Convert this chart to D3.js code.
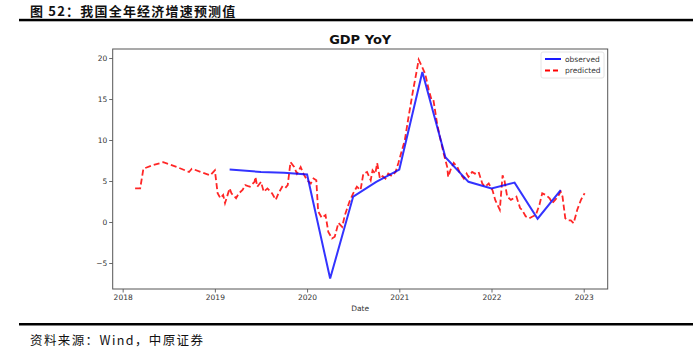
<!DOCTYPE html>
<html>
<head>
<meta charset="utf-8">
<script src="https://cdn.jsdelivr.net/npm/d3@7"></script>
<style>
  body { margin: 0; background: #fff; }
  svg { display: block; }
</style>
</head>
<body>
<div id="chart"></div>
<script>
// observed quarterly GDP YoY (decimal year)
const obsYears = [2019.16, 2019.5, 2019.75, 2020.0, 2020.25, 2020.5, 2020.75, 2021.0, 2021.25, 2021.5, 2021.75, 2022.0, 2022.25, 2022.5, 2022.75];
const obsValues = [6.4, 6.1, 6.0, 5.8, -6.9, 3.1, 4.9, 6.4, 18.3, 7.9, 4.9, 4.1, 4.8, 0.4, 3.9];

// predicted series
const predYears = [
  2018.135, 2018.19, 2018.225, 2018.32, 2018.44, 2018.59, 2018.72, 2018.75, 2018.95, 2019.0,
  2019.03, 2019.06, 2019.09, 2019.11, 2019.16, 2019.18, 2019.23, 2019.26, 2019.30, 2019.33,
  2019.38, 2019.43, 2019.44, 2019.46, 2019.50, 2019.53, 2019.57, 2019.62, 2019.66, 2019.69,
  2019.73, 2019.76, 2019.79, 2019.82, 2019.86, 2019.89, 2019.93, 2019.96, 2020.0, 2020.04,
  2020.07, 2020.10, 2020.12, 2020.16, 2020.2, 2020.23, 2020.27, 2020.30, 2020.34, 2020.38,
  2020.41, 2020.46, 2020.5, 2020.54, 2020.58, 2020.61, 2020.65, 2020.69, 2020.71, 2020.74,
  2020.76, 2020.79, 2020.82, 2020.85, 2020.88, 2020.92, 2020.96, 2020.99, 2021.03, 2021.06,
  2021.1, 2021.15, 2021.19, 2021.21, 2021.24, 2021.28, 2021.32, 2021.35, 2021.37, 2021.41,
  2021.44, 2021.48, 2021.52, 2021.53, 2021.56, 2021.59, 2021.63, 2021.66, 2021.70, 2021.73,
  2021.75, 2021.79, 2021.82, 2021.86, 2021.90, 2021.93, 2021.97, 2022.01, 2022.04, 2022.09,
  2022.12, 2022.14, 2022.17, 2022.21, 2022.24, 2022.27, 2022.31, 2022.33, 2022.37, 2022.41,
  2022.44, 2022.48, 2022.52, 2022.55, 2022.59, 2022.63, 2022.66, 2022.69, 2022.72, 2022.75,
  2022.77, 2022.80, 2022.83, 2022.86, 2022.89, 2022.93, 2022.97, 2023.01
];
const predValues = [
  4.1, 4.1, 6.5, 6.9, 7.3, 6.7, 6.1, 6.5, 5.7, 6.3,
  3.5, 2.9, 3.3, 2.3, 4.1, 3.5, 2.9, 3.5, 3.9, 4.5,
  4.3, 4.9, 5.5, 4.3, 4.9, 3.7, 4.1, 3.5, 2.7, 3.5,
  4.3, 4.1, 4.5, 7.3, 6.7, 5.9, 6.7, 5.9, 5.1, 4.7,
  5.3, 5.1, 1.3, 0.5, 0.85, -1.2, -2.0, -1.8, -0.1, -0.6,
  0.85, 2.5, 3.5, 4.3, 3.9, 5.9, 6.1, 5.1, 6.3, 5.9,
  7.2, 5.3, 5.6, 5.3, 5.9, 5.6, 6.1, 7.2, 8.8, 10.0,
  12.8, 16.1, 18.5, 19.8, 19.1, 18.1, 16.1, 14.9, 14.9, 12.0,
  10.4, 8.4, 6.7, 5.5, 6.5, 7.2, 6.7, 5.9, 5.3, 5.9,
  5.5, 6.1, 5.9, 6.1, 4.7, 4.3, 4.7, 3.9, 2.7, 1.5,
  5.7, 5.1, 3.1, 2.7, 2.9, 3.1, 1.7, 1.5, 0.7, 0.45,
  0.65, 0.85, 2.1, 3.5, 3.3, 2.9, 2.3, 2.7, 3.1, 3.7,
  3.1, 0.45, 0.2, 0.2, -0.15, 1.5, 2.7, 3.5
];

const xTicks = [2018, 2019, 2020, 2021, 2022, 2023];
const yTicks = [-5, 0, 5, 10, 15, 20];

const W = 693, H = 353;
const plot = { left: 112.7, right: 607.7, top: 49, bottom: 289 };

const svg = d3.select("#chart").append("svg")
  .attr("width", W)
  .attr("height", H)
  .style("font-family", "'DejaVu Sans', sans-serif");

// header + rules
svg.append("text")
  .attr("x", 30).attr("y", 15.5)
  .attr("font-family", "'Noto Sans CJK SC', sans-serif")
  .attr("font-size", 13).attr("font-weight", "bold")
  .attr("letter-spacing", 1.2)
  .attr("fill", "#111")
  .text("图 52：我国全年经济增速预测值");
svg.append("rect").attr("x", 19).attr("y", 18.8).attr("width", W - 19).attr("height", 2.5).attr("fill", "#000");
svg.append("rect").attr("x", 19).attr("y", 323).attr("width", W - 19).attr("height", 2.5).attr("fill", "#000");
svg.append("text")
  .attr("x", 30).attr("y", 345)
  .attr("font-family", "'Noto Sans CJK SC', sans-serif")
  .attr("font-size", 12.5)
  .attr("letter-spacing", 1.4)
  .attr("fill", "#111")
  .text("资料来源：Wind，中原证券");

// scales
const x = d3.scaleLinear()
  .domain([2017.892, 2023.26])
  .range([plot.left, plot.right]);
const y = d3.scaleLinear()
  .domain([-8.17, 21.1])
  .range([plot.bottom, plot.top]);

// axes
const xAxis = svg.append("g")
  .attr("transform", `translate(0,${plot.bottom})`)
  .call(d3.axisBottom(x).tickValues(xTicks).tickFormat(d3.format("d")).tickSize(3.5).tickPadding(2));
const yAxis = svg.append("g")
  .attr("transform", `translate(${plot.left},0)`)
  .call(d3.axisLeft(y).tickValues(yTicks).tickFormat(d => d < 0 ? "\u2212" + Math.abs(d) : d).tickSize(3.5).tickPadding(2));
[xAxis, yAxis].forEach(g => {
  g.select(".domain").remove();
  g.selectAll(".tick line").attr("stroke", "#444").attr("stroke-width", 0.8);
  g.selectAll(".tick text").attr("font-size", 7.5).attr("fill", "#333")
    .attr("font-family", "'DejaVu Sans', sans-serif");
});

// frame
svg.append("rect")
  .attr("x", plot.left).attr("y", plot.top)
  .attr("width", plot.right - plot.left).attr("height", plot.bottom - plot.top)
  .attr("fill", "none").attr("stroke", "#555").attr("stroke-width", 1);

// title and x label
svg.append("text")
  .attr("x", (plot.left + plot.right) / 2).attr("y", 44)
  .attr("text-anchor", "middle")
  .attr("font-size", 13).attr("font-weight", "bold").attr("fill", "#111")
  .text("GDP YoY");
svg.append("text")
  .attr("x", (plot.left + plot.right) / 2).attr("y", 311)
  .attr("text-anchor", "middle")
  .attr("font-size", 7.5).attr("fill", "#333")
  .text("Date");

// lines
const line = d3.line().x(d => x(d[0])).y(d => y(d[1]));

svg.append("path")
  .datum(predYears.map((d, i) => [d, predValues[i]]))
  .attr("d", line)
  .attr("fill", "none")
  .attr("stroke", "#ff0000")
  .attr("stroke-opacity", 0.85)
  .attr("stroke-width", 1.8)
  .attr("stroke-dasharray", "6,3");

svg.append("path")
  .datum(obsYears.map((d, i) => [d, obsValues[i]]))
  .attr("d", line)
  .attr("fill", "none")
  .attr("stroke", "#0000ff")
  .attr("stroke-opacity", 0.8)
  .attr("stroke-width", 2);

// legend
const lg = svg.append("g").attr("transform", "translate(541,52)");
lg.append("rect").attr("width", 63).attr("height", 26).attr("rx", 2)
  .attr("fill", "#fff").attr("stroke", "#ddd").attr("stroke-width", 0.8);
const items = [
  { name: "observed", color: "#0000ff", dash: null },
  { name: "predicted", color: "#ff0000", dash: "5,3" }
];
items.forEach((it, i) => {
  const yy = 7 + i * 11.5;
  lg.append("line").attr("x1", 4).attr("x2", 20).attr("y1", yy).attr("y2", yy)
    .attr("stroke", it.color).attr("stroke-width", 1.8)
    .attr("stroke-dasharray", it.dash);
  lg.append("text").attr("x", 24).attr("y", yy + 2.6)
    .attr("font-size", 7.5).attr("fill", "#333").text(it.name);
});
</script>
</body>
</html>
